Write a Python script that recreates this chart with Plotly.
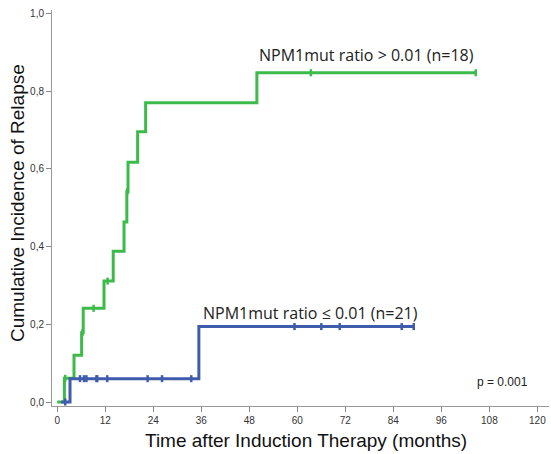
import plotly.graph_objects as go

# Step data
hi_times = [0, 1.8, 4.2, 6.1, 6.5, 11.7, 14.0, 16.7, 17.4, 17.7, 20.1, 22.1, 49.9]
hi_values = [0, 0.061, 0.12, 0.178, 0.241, 0.311, 0.388, 0.463, 0.541, 0.617, 0.695, 0.770, 0.847]
hi_end = 104.6
hi_censor = [2.0, 6.3, 9.1, 12.6, 17.5, 63.4, 104.6]

lo_times = [1.0, 3.2, 35.4]
lo_values = [0, 0.06, 0.194]
lo_end = 89.1
lo_censor = [2.0, 5.7, 6.7, 7.3, 9.8, 10.0, 12.5, 22.6, 26.2, 33.5, 59.3, 66.0, 70.6, 86.1, 89.1]

x_ticks = [0, 12, 24, 36, 48, 60, 72, 84, 96, 108, 120]
y_ticks = [0.0, 0.2, 0.4, 0.6, 0.8, 1.0]

GREEN = "#3DBB4A"
BLUE = "#3F5BAB"


def step_at(times, values, t):
    v = values[0]
    for tt, vv in zip(times, values):
        if t >= tt:
            v = vv
    return v


fig = go.Figure()

for times, values, end, cens, col in [
    (hi_times, hi_values, hi_end, hi_censor, GREEN),
    (lo_times, lo_values, lo_end, lo_censor, BLUE),
]:
    fig.add_trace(go.Scatter(
        x=times + [end], y=values + [values[-1]],
        mode="lines", line=dict(color=col, width=3, shape="hv"),
        showlegend=False, hoverinfo="skip"))
    fig.add_trace(go.Scatter(
        x=cens, y=[step_at(times, values, c) for c in cens],
        mode="markers",
        marker=dict(symbol="line-ns", size=5, color=col, line=dict(color=col, width=2.5)),
        showlegend=False, hoverinfo="skip"))

W, H = 551, 454
L, R, T, B = 52, 2, 10, 48
PW, PH = W - L - R, H - T - B

fig.update_layout(
    width=W, height=H,
    margin=dict(l=L, r=R, t=T, b=B),
    paper_bgcolor="white", plot_bgcolor="white",
    separators=",.",
    xaxis=dict(range=[-1.3, 122.9], tickvals=x_ticks, ticks="outside", ticklen=5,
               tickcolor="#888", showline=True, linecolor="#999", linewidth=1,
               showgrid=False, zeroline=False,
               tickfont=dict(family="Liberation Sans, Arial", size=10, color="#333")),
    yaxis=dict(range=[-0.0103, 1.0085], tickvals=y_ticks, tickformat=".1f",
               ticks="outside", ticklen=5, tickcolor="#888",
               showline=True, linecolor="#999", linewidth=1,
               showgrid=False, zeroline=False,
               tickfont=dict(family="Liberation Sans, Arial", size=10, color="#333")),
    annotations=[
        dict(text="NPM1mut ratio > 0.01 (n=18)", x=77.3, y=0.893, xref="x", yref="y",
             xanchor="center", yanchor="middle",
             showarrow=False, font=dict(family="Open Sans", size=16, color="#222")),
        dict(text="NPM1mut ratio ≤ 0.01 (n=21)", x=63.4, y=0.229, xref="x", yref="y",
             xanchor="center", yanchor="middle",
             showarrow=False, font=dict(family="Open Sans", size=16, color="#222")),
        dict(text="p = 0.001", x=111.3, y=0.052, xref="x", yref="y",
             xanchor="center", yanchor="middle",
             showarrow=False, font=dict(family="Liberation Sans, Arial", size=12, color="#222")),
        dict(text="Time after Induction Therapy (months)", x=(306 - L) / PW,
             y=(H - B - 440) / PH, xref="paper", yref="paper",
             xanchor="center", yanchor="middle",
             showarrow=False, font=dict(family="Liberation Sans, Arial", size=19, color="#111")),
        dict(text="Cumulative Incidence of Relapse", x=(17 - L) / PW,
             y=(H - B - 203) / PH, xref="paper", yref="paper", textangle=-90,
             xanchor="center", yanchor="middle",
             showarrow=False, font=dict(family="Liberation Sans, Arial", size=19, color="#111")),
    ],
)

fig.write_html("out.html", config={"displayModeBar": False},
               post_script="document.body.style.margin='0px';")
